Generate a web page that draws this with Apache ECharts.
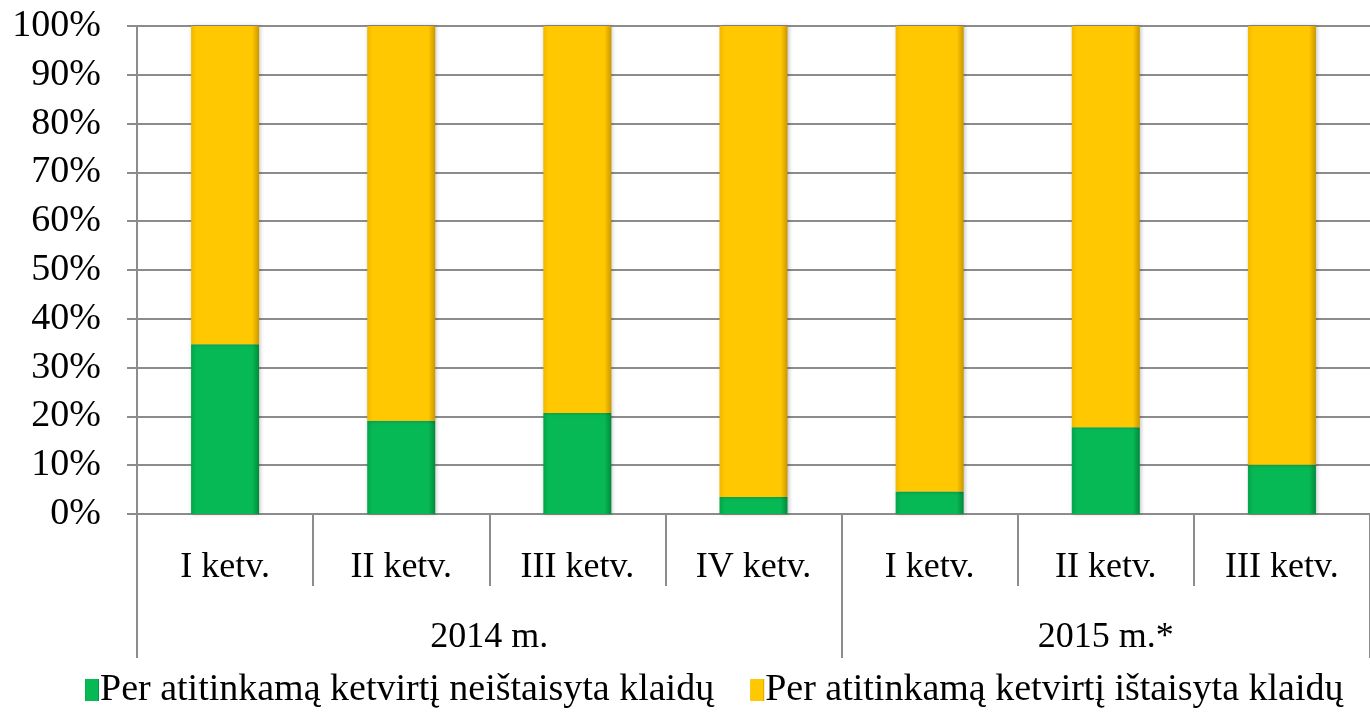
<!DOCTYPE html>
<html>
<head>
<meta charset="utf-8">
<script src="https://cdn.jsdelivr.net/npm/echarts@6/dist/echarts.min.js"></script>
<style>
  html, body { margin: 0; padding: 0; background: #fff; }
  #chart { width: 1370px; height: 714px; }
</style>
</head>
<body>
<div id="chart"></div>
<script>
// ketvirčiai ir metai
const quarters = ['I ketv.', 'II ketv.', 'III ketv.', 'IV ketv.', 'I ketv.', 'II ketv.', 'III ketv.'];
const years = ['2014 m.', '2015 m.*'];
// metų ribos (ketvirčių indeksais) ir etikečių vietos
const yearBounds = [0, 4, 7];
const yearCenters = [2, 5.5];

// neištaisyta klaidų dalis, %
const notFixed = [34.8, 19.1, 20.7, 3.5, 4.6, 17.8, 10.1];
// ištaisyta klaidų dalis, %
const fixed = notFixed.map(v => +(100 - v).toFixed(1));

const yTicks = [0, 10, 20, 30, 40, 50, 60, 70, 80, 90, 100];

const seriesNames = [
  'Per atitinkamą ketvirtį neištaisyta klaidų',
  'Per atitinkamą ketvirtį ištaisyta klaidų'
];

const font = '"Liberation Serif", "Times New Roman", serif';
const gridColor = '#8c8c8c';

const chart = echarts.init(document.getElementById('chart'));

const option = {
  backgroundColor: '#fff',
  animation: false,
  textStyle: { fontFamily: font },
  grid: {
    left: 137,
    right: 0,
    top: 26,
    bottom: 200
  },
  legend: {
    bottom: 0,
    left: 80,
    itemWidth: 14,
    itemHeight: 22,
    itemGap: 36,
    icon: 'rect',
    textStyle: { fontFamily: font, fontSize: 38, color: '#000', padding: [0, 0, 0, -4] },
    data: seriesNames
  },
  xAxis: [
    {
      type: 'category',
      data: quarters,
      position: 'bottom',
      axisLine: { lineStyle: { color: gridColor, width: 2 } },
      axisTick: { show: true, interval: 0, length: 72, lineStyle: { color: gridColor, width: 2 } },
      axisLabel: { interval: 0, color: '#000', fontSize: 36, fontFamily: font, margin: 36 }
    },
    {
      type: 'value',
      min: 0,
      max: 7,
      position: 'bottom',
      axisLine: { show: false },
      splitLine: { show: false },
      axisTick: {
        show: true,
        length: 144,
        customValues: yearBounds,
        lineStyle: { color: gridColor, width: 2 }
      },
      axisLabel: {
        customValues: yearCenters,
        color: '#000',
        fontSize: 36,
        fontFamily: font,
        margin: 106,
        formatter: v => years[yearCenters.indexOf(v)] || ''
      }
    }
  ],
  yAxis: {
    type: 'value',
    min: 0,
    max: 100,
    interval: 10,
    axisLine: { show: true, lineStyle: { color: gridColor, width: 2 } },
    axisTick: { show: true, length: 10, lineStyle: { color: gridColor, width: 2 } },
    splitLine: { show: true, lineStyle: { color: gridColor, width: 2 } },
    axisLabel: {
      color: '#000',
      fontSize: 38,
      fontFamily: font,
      margin: 36,
      formatter: v => (yTicks.includes(v) ? v + '%' : '')
    }
  },
  series: [
    {
      name: seriesNames[0],
      type: 'bar',
      stack: 'total',
      barWidth: 68,
      data: notFixed,
      itemStyle: {
        color: {
          type: 'linear', x: 0, y: 0, x2: 1, y2: 0,
          colorStops: [
            { offset: 0, color: '#04a44a' },
            { offset: 0.08, color: '#06b955' },
            { offset: 0.9, color: '#06b955' },
            { offset: 1, color: '#03883d' }
          ]
        },
        shadowColor: 'rgba(0,0,0,0.25)',
        shadowBlur: 4,
        shadowOffsetX: 1
      }
    },
    {
      name: seriesNames[1],
      type: 'bar',
      stack: 'total',
      barWidth: 68,
      data: fixed,
      itemStyle: {
        color: {
          type: 'linear', x: 0, y: 0, x2: 1, y2: 0,
          colorStops: [
            { offset: 0, color: '#f0b800' },
            { offset: 0.08, color: '#ffc800' },
            { offset: 0.9, color: '#ffc800' },
            { offset: 1, color: '#c99700' }
          ]
        },
        shadowColor: 'rgba(0,0,0,0.25)',
        shadowBlur: 4,
        shadowOffsetX: 1
      }
    }
  ]
};

chart.setOption(option);
</script>
</body>
</html>
